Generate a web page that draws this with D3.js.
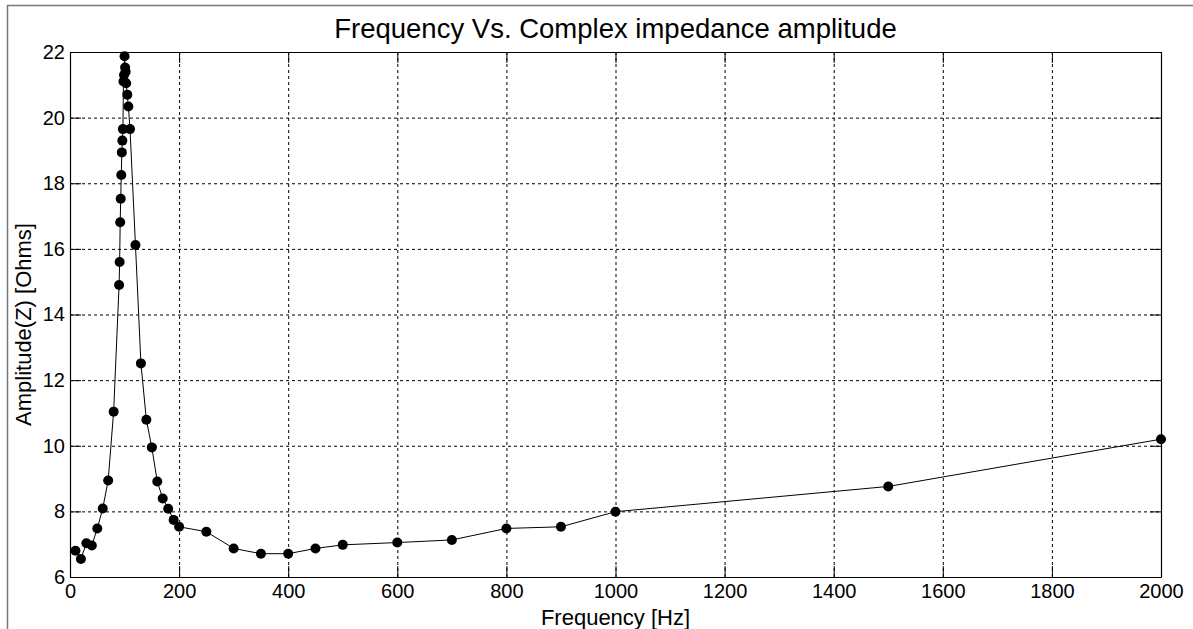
<!DOCTYPE html>
<html>
<head>
<meta charset="utf-8">
<script src="https://cdn.jsdelivr.net/npm/d3@7"></script>
<style>
  body { margin: 0; background: #fff; }
  text { font-family: "Liberation Sans", Arial, sans-serif; fill: #000; }
</style>
</head>
<body>
<svg id="canvas"></svg>
<script>
// measured points (Hz, Ohms)
const freq = [10, 20, 30, 40, 50, 60, 70, 80, 90, 91, 92, 93, 94, 95, 96, 97, 98, 99, 100,
    101, 102, 103, 105, 107, 110, 120, 130, 140, 150, 160, 170, 180, 190, 200,
    250, 300, 350, 400, 450, 500, 600, 700, 800, 900, 1000, 1500, 2000];
const amp = [6.80, 6.55, 7.03, 6.96, 7.48, 8.09, 8.94, 11.04, 14.9, 15.6, 16.81, 17.53, 18.25, 18.94, 19.3, 19.65, 21.1, 21.3, 21.87,
    21.53, 21.4, 21.05, 20.7, 20.34, 19.65, 16.12, 12.51, 10.79, 9.95, 8.91, 8.39, 8.08, 7.74, 7.53,
    7.38, 6.87, 6.71, 6.71, 6.87, 6.98, 7.05, 7.13, 7.48, 7.53, 7.99, 8.76, 10.2];
const xTicks = [0, 200, 400, 600, 800, 1000, 1200, 1400, 1600, 1800, 2000];
const yTicks = [6, 8, 10, 12, 14, 16, 18, 20, 22];

const data = freq.map((f, i) => ({ f: f, a: amp[i] }));

const width = 1193,
    height = 629;

const svg = d3.select("#canvas")
    .attr("width", width)
    .attr("height", height);

const box = {
    left: 70,
    top: 52,
    right: 1161,
    bottom: 577,
}
box.innerWidth = box.right - box.left;
box.innerHeight = box.bottom - box.top;

// figure frame
svg.append("rect")
    .attr("x", 7.5).attr("y", 5.5)
    .attr("width", 1300).attr("height", 700)
    .attr("fill", "#fff")
    .attr("stroke", "#777")
    .attr("stroke-width", 1.5);

const scaleX = d3.scaleLinear()
    .domain([0, 2000])
    .range([0, box.innerWidth]);
const scaleY = d3.scaleLinear()
    .domain([6, 22])
    .range([box.innerHeight, 0]);

const g = svg.append("g")
    .attr("transform", `translate(${box.left}, ${box.top})`);

g.append("rect")
    .attr("width", box.innerWidth)
    .attr("height", box.innerHeight)
    .attr("fill", "#fff");

// dotted grid
const gridX = g.append("g").call(d3.axisBottom(scaleX).tickValues(xTicks)
    .tickSize(box.innerHeight).tickFormat(""));
const gridY = g.append("g").call(d3.axisLeft(scaleY).tickValues(yTicks)
    .tickSize(-box.innerWidth).tickFormat(""));
[gridX, gridY].forEach(a => {
    a.select(".domain").remove();
    a.selectAll("line")
        .attr("stroke", "#000")
        .attr("stroke-dasharray", "3,3");
});

const tickLen = 11;
const fmt = d3.format("d");
const axisBottom = g.append("g")
    .attr("transform", `translate(0, ${box.innerHeight})`)
    .call(d3.axisBottom(scaleX).tickValues(xTicks).tickFormat(fmt).tickSizeInner(-tickLen).tickSizeOuter(0).tickPadding(5));
const axisTop = g.append("g")
    .call(d3.axisTop(scaleX).tickValues(xTicks).tickSizeInner(-tickLen).tickSizeOuter(0).tickFormat(""));
const axisLeft = g.append("g")
    .call(d3.axisLeft(scaleY).tickValues(yTicks).tickFormat(fmt).tickSizeInner(-tickLen).tickSizeOuter(0).tickPadding(5));
const axisRight = g.append("g")
    .attr("transform", `translate(${box.innerWidth}, 0)`)
    .call(d3.axisRight(scaleY).tickValues(yTicks).tickSizeInner(-tickLen).tickSizeOuter(0).tickFormat(""));

[axisBottom, axisTop, axisLeft, axisRight].forEach(a => {
    a.select(".domain").attr("stroke", "#000").attr("stroke-width", 1.2);
    a.selectAll("line").attr("stroke", "#000");
    a.selectAll("text")
        .style("font-family", '"Liberation Sans", Arial, sans-serif')
        .style("font-size", "20px")
        .attr("fill", "#000");
});
axisBottom.selectAll("text").attr("dy", "0.8em");

const line = d3.line()
    .x(d => scaleX(d.f))
    .y(d => scaleY(d.a));

g.append("path")
    .attr("d", line(data))
    .attr("fill", "none")
    .attr("stroke", "#000")
    .attr("stroke-width", 1);

g.selectAll("circle")
    .data(data)
    .join("circle")
    .attr("cx", d => scaleX(d.f))
    .attr("cy", d => scaleY(d.a))
    .attr("r", 5)
    .attr("fill", "#000");

svg.append("text")
    .attr("x", (box.left + box.right) / 2)
    .attr("y", 38)
    .attr("text-anchor", "middle")
    .style("font-size", "27.5px")
    .text("Frequency Vs. Complex impedance amplitude");

svg.append("text")
    .attr("x", (box.left + box.right) / 2)
    .attr("y", 625)
    .attr("text-anchor", "middle")
    .style("font-size", "22px")
    .text("Frequency [Hz]");

svg.append("text")
    .attr("transform", `translate(31, ${(box.top + box.bottom) / 2 + 10}) rotate(-90)`)
    .attr("text-anchor", "middle")
    .style("font-size", "22px")
    .text("Amplitude(Z) [Ohms]");
</script>
</body>
</html>
